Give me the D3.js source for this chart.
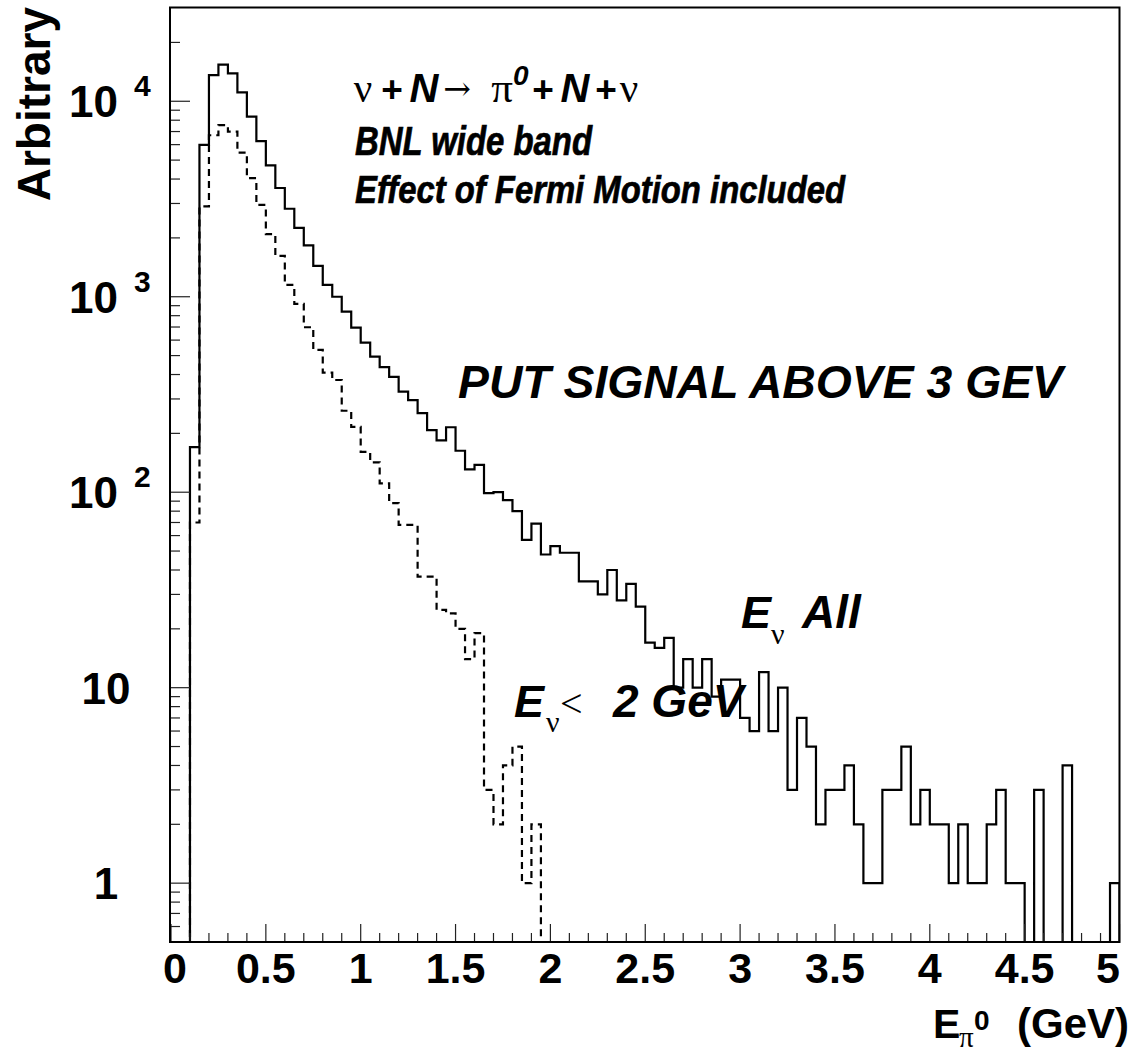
<!DOCTYPE html>
<html>
<head>
<meta charset="utf-8">
<script src="https://cdn.jsdelivr.net/npm/d3@7"></script>
<style>
  body { margin: 0; background: #fff; }
  text { font-family: "Liberation Sans", Arial, sans-serif; fill: #000; }
  .sym { font-family: "Liberation Serif", "Times New Roman", serif; font-weight: normal; font-style: normal; }
  .arrow { font-family: "DejaVu Serif", serif; font-weight: normal; }
</style>
</head>
<body>
<div id="chart"></div>
<script>
// bins: 100 bins of 0.05 GeV from 0 to 5
var binLow = d3.range(100).map(function(i) { return i * 0.05; });
var binWidth = 0.05;

// E_nu all
var allNu = [0, 0, 170, 5980, 13600, 15400, 13900, 11100, 8340, 6250,
  4700, 3600, 2820, 2250, 1830, 1440, 1150, 1000, 840, 695,
  582, 494, 436, 389, 327, 296, 254, 208, 184, 215,
  163, 131, 138, 99, 100, 91, 80, 57, 69, 48,
  53, 49, 49, 35, 35, 30, 40, 28, 34, 26,
  17, 16, 18, 10, 14, 10, 14, 9, 11, 11,
  7, 6, 12, 6, 10, 3, 7, 5, 2, 3,
  3, 4, 2, 1, 1, 3, 3, 5, 2, 3,
  2, 2, 1, 2, 1, 1, 2, 3, 1, 1,
  0, 3, 0, 0, 4, 0, 0, 0, 0, 1];

// E_nu < 2 GeV
var lowNu = [0, 0, 70, 2900, 6700, 7550, 7000, 5460, 4040, 2950,
  2090, 1620, 1150, 919, 698, 535, 409, 375, 261, 216,
  161, 142, 111, 88, 68, 68, 37, 37, 25, 24,
  20, 14, 19, 3, 2, 4, 5, 1, 2, 0,
  0, 0, 0, 0, 0, 0, 0, 0, 0, 0,
  0, 0, 0, 0, 0, 0, 0, 0, 0, 0,
  0, 0, 0, 0, 0, 0, 0, 0, 0, 0,
  0, 0, 0, 0, 0, 0, 0, 0, 0, 0,
  0, 0, 0, 0, 0, 0, 0, 0, 0, 0,
  0, 0, 0, 0, 0, 0, 0, 0, 0, 0];

var xTickLabels = ["0", "0.5", "1", "1.5", "2", "2.5", "3", "3.5", "4", "4.5", "5"];
var yTickValues = [1, 10, 100, 1000, 10000];
var yTickBase = ["1", "10", "10", "10", "10"];
var yTickExp = ["", "", "2", "3", "4"];

var svgWidth = 1142;
var svgHeight = 1055;
var yMin = 0.5, yMax = 30000;

var svg = d3.select("#chart")
  .append("svg")
  .attr("width", svgWidth)
  .attr("height", svgHeight);

var x = d3.scaleLinear().domain([0, 5]).range([171, 1119.5]);
var y = d3.scaleLog().domain([yMin, yMax]).range([942, 8]);

svg.append("clipPath").attr("id", "frameClip")
  .append("rect")
  .attr("x", 170).attr("y", 7)
  .attr("width", 950).attr("height", 936);

// histogram outline as a step path
function stepPoints(values) {
  var pts = [[x(0), y(yMin)]];
  values.forEach(function(v, i) {
    var yy = y(Math.max(v, yMin));
    pts.push([x(binLow[i]), yy]);
    pts.push([x(binLow[i] + binWidth), yy]);
  });
  pts.push([x(5), y(yMin)]);
  return pts;
}

var line = d3.line();

var plot = svg.append("g").attr("clip-path", "url(#frameClip)");

plot.append("path")
  .attr("d", line(stepPoints(allNu)))
  .attr("fill", "none")
  .attr("stroke", "#000")
  .attr("stroke-width", 2.2);

plot.append("path")
  .attr("d", line(stepPoints(lowNu)))
  .attr("fill", "none")
  .attr("stroke", "#000")
  .attr("stroke-width", 2.2)
  .attr("stroke-dasharray", "7,5");

// x ticks (every 0.1, long ones every 0.5)
var xTicks = d3.range(0, 51).map(function(i) { return i / 10; });
svg.append("g").selectAll("line")
  .data(xTicks)
  .enter()
  .append("line")
  .attr("x1", d => x(d)).attr("x2", d => x(d))
  .attr("y1", 942)
  .attr("y2", (d, i) => i % 5 === 0 ? 924 : 933)
  .attr("stroke", "#222")
  .attr("stroke-width", 1.2);

// y ticks (log, majors + minors)
var yTicks = [];
[0.1, 1, 10, 100, 1000, 10000].forEach(function(dec) {
  for (var k = 1; k < 10; k++) {
    var v = dec * k;
    if (v > yMin && v < yMax) yTicks.push({ v: v, major: k === 1 });
  }
});
svg.append("g").selectAll("line")
  .data(yTicks)
  .enter()
  .append("line")
  .attr("x1", 170)
  .attr("x2", d => d.major ? 190 : 180)
  .attr("y1", d => y(d.v)).attr("y2", d => y(d.v))
  .attr("stroke", "#222")
  .attr("stroke-width", 1.2);

// frame
svg.append("rect")
  .attr("x", 170).attr("y", 7.5)
  .attr("width", 949.5).attr("height", 934.5)
  .attr("fill", "none")
  .attr("stroke", "#000")
  .attr("stroke-width", 2);

// x tick labels
svg.append("g").selectAll("text")
  .data(xTickLabels)
  .enter()
  .append("text")
  .attr("x", (d, i) => i === 10 ? 1120 : x(i * 0.5) + (i === 0 ? 4 : 0))
  .attr("y", 983)
  .attr("text-anchor", (d, i) => i === 10 ? "end" : "middle")
  .attr("font-size", 43)
  .attr("font-weight", "bold")
  .text(d => d);

// y tick labels
var yLab = svg.append("g");
yTickValues.forEach(function(v, i) {
  var ty = y(v);
  if (yTickExp[i] === "") {
    yLab.append("text")
      .attr("x", 106)
      .attr("y", ty + 16)
      .attr("text-anchor", "middle")
      .attr("font-size", 44)
      .attr("font-weight", "bold")
      .text(yTickBase[i]);
  } else {
    yLab.append("text")
      .attr("x", 118)
      .attr("y", ty + 16)
      .attr("text-anchor", "end")
      .attr("font-size", 44)
      .attr("font-weight", "bold")
      .text(yTickBase[i]);
    yLab.append("text")
      .attr("x", 134)
      .attr("y", ty - 5)
      .attr("font-size", 30)
      .attr("font-weight", "bold")
      .text(yTickExp[i]);
  }
});

// axis titles
svg.append("text")
  .attr("transform", "translate(50, 7) rotate(-90)")
  .attr("text-anchor", "end")
  .attr("font-size", 46)
  .attr("font-weight", "bold")
  .text("Arbitrary");

var xt = svg.append("g");
xt.append("text").attr("x", 933).attr("y", 1038)
  .attr("font-size", 41).attr("font-weight", "bold").text("E");
xt.append("text").attr("class", "sym").attr("x", 959).attr("y", 1047)
  .attr("font-size", 29).text("\u03c0");
xt.append("text").attr("x", 974).attr("y", 1030)
  .attr("font-size", 28).attr("font-weight", "bold").text("0");
xt.append("text").attr("x", 1129).attr("y", 1038)
  .attr("text-anchor", "end")
  .attr("font-size", 42).attr("font-weight", "bold").text("(GeV)");

// annotations
function label(g, px, py, size, str, cls) {
  var t = g.append("text")
    .attr("x", px).attr("y", py)
    .attr("font-size", size)
    .text(str);
  if (cls === "sym" || cls === "arrow") t.attr("class", cls);
  else t.attr("font-weight", "bold").attr("font-style", cls === "bi" ? "italic" : "normal");
  return t;
}

var notes = svg.append("g");
// nu + N -> pi0 + N + nu  (pieces centred on where they sit in the reference)
function centred(px, py, size, str, cls) {
  return label(notes, px, py, size, str, cls).attr("text-anchor", "middle");
}
centred(363, 102, 41, "\u03bd", "sym");
centred(392, 102, 37, "+", "b");
centred(424, 102, 40, "N", "bi");
centred(457, 100, 33, "\u2192", "arrow");
centred(502, 102, 43, "\u03c0", "sym");
label(notes, 513, 85, 28, "0", "bi");
centred(543, 102, 37, "+", "b");
centred(575, 102, 40, "N", "bi");
centred(606, 102, 37, "+", "b");
centred(629, 102, 41, "\u03bd", "sym");

label(notes, 355, 155, 40, "BNL wide band", "bi")
  .attr("textLength", 237).attr("lengthAdjust", "spacingAndGlyphs")
  .attr("stroke", "#000").attr("stroke-width", 0.7);
label(notes, 355, 203, 39, "Effect of Fermi Motion included", "bi")
  .attr("textLength", 490).attr("lengthAdjust", "spacingAndGlyphs")
  .attr("stroke", "#000").attr("stroke-width", 0.7);
label(notes, 458, 398, 46, "PUT SIGNAL ABOVE 3 GEV", "bi")
  .attr("textLength", 605).attr("lengthAdjust", "spacingAndGlyphs");

// E_nu All
label(notes, 741, 628, 45, "E", "bi");
label(notes, 771, 644, 30, "\u03bd", "sym");
label(notes, 802, 628, 46, "All", "bi");

// E_nu < 2 GeV
label(notes, 514, 717, 45, "E", "bi");
label(notes, 546, 732, 30, "\u03bd", "sym");
label(notes, 560, 717, 40, "<", "sym");
label(notes, 613, 717, 46, "2 GeV", "bi");
</script>
</body>
</html>
